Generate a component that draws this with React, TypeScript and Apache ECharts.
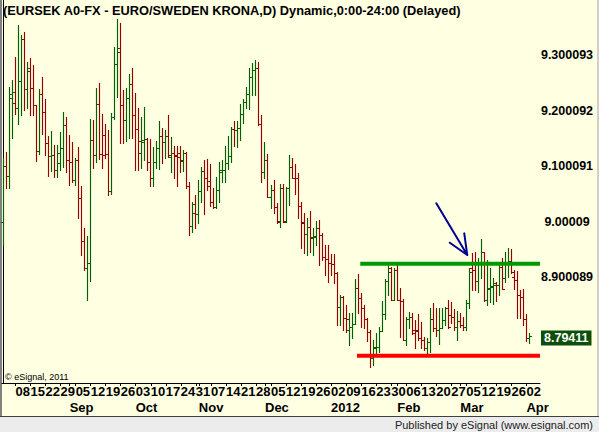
import React, { useEffect, useRef } from "react";
import * as echarts from "echarts";

const FONT = '"Liberation Sans", Arial, Helvetica, sans-serif';

// ---- calendar (weekday categories) ----
const FIRST_DATE = "2011-08-02";
const CATEGORY_COUNT = 179; // 176 trading bars + 3 empty days on the right
const monthNames = ["Jan", "Feb", "Mar", "Apr", "May", "Jun", "Jul", "Aug", "Sep", "Oct", "Nov", "Dec"];

// ---- OHLC data (EUR/SEK daily) ----
const opens = [
  8.9985, 9.1, 9.0814, 9.2219, 9.2129, 9.2039, 9.2532, 9.3289, 9.2388, 9.2712,
  9.24, 9.2099, 9.1271, 9.2292, 9.1979, 9.1409, 9.118, 9.1198, 9.0928, 9.1048,
  9.1331, 9.1739, 9.1108, 9.1078, 9.0748, 9.1108, 9.0418, 8.9649, 8.9156, 8.9247,
  9.1469, 9.1198, 9.2111, 9.1211, 9.1559, 9.1211, 9.055, 9.1889, 9.2832, 9.306,
  9.2099, 9.1829, 9.2232, 9.2472, 9.1919, 9.1661, 9.1229, 9.1439, 9.1487, 9.1078,
  9.0778, 9.1078, 9.1331, 9.1547, 9.1427, 9.1547, 9.1168, 9.1229, 9.1198, 9.1229,
  9.109, 9.1229, 9.0646, 8.9919, 9.0147, 9.0129, 9.055, 9.091, 9.0778, 9.073,
  9.0346, 9.0268, 9.0568, 9.0898, 9.0928, 9.1048, 9.1186, 9.1667, 9.1649, 9.1679,
  9.1931, 9.2147, 9.2292, 9.2598, 9.273, 9.2772, 9.1751, 9.0898, 9.1108, 9.0448,
  9.0568, 9.0256, 9.0009, 9.0598, 9.0009, 9.061, 9.0988, 9.079, 9.0778, 9.0286,
  8.9967, 8.9769, 8.9907, 8.9709, 8.9727, 8.9877, 8.9757, 8.9367, 8.9319, 8.9247,
  8.9229, 8.9066, 8.8466, 8.8646, 8.8268, 8.8045, 8.8105, 8.8147, 8.8796, 8.8616,
  8.8436, 8.8244, 8.8015, 8.7535, 8.7727, 8.7745, 8.8027, 8.8328, 8.8934, 8.9156,
  8.8586, 8.9126, 8.8586, 8.8568, 8.7865, 8.8244, 8.8286, 8.8045, 8.8045, 8.7895,
  8.7865, 8.7715, 8.7823, 8.8244, 8.8075, 8.8045, 8.8087, 8.8226, 8.8448, 8.8316,
  8.8286, 8.8105, 8.8207, 8.8135, 8.8105, 8.8526, 8.9168, 8.9126, 8.8928, 8.9229,
  8.9445, 8.8586, 8.8784, 8.8826, 8.8886, 8.8856, 8.9186, 8.8976, 8.9264, 8.9289,
  8.9006, 8.8946, 8.8676, 8.8646, 8.8244, 8.7895,
];
const highs = [
  9.1138, 9.1259, 9.243, 9.255, 9.297, 9.3541, 9.3361, 9.3421, 9.288, 9.2952,
  9.282, 9.2099, 9.2388, 9.261, 9.2207, 9.1547, 9.1631, 9.1379, 9.1379, 9.1619,
  9.1979, 9.1889, 9.1559, 9.1439, 9.1138, 9.1349, 9.0646, 8.9889, 8.9739, 9.1841,
  9.1829, 9.2412, 9.249, 9.1931, 9.1751, 9.1649, 9.1961, 9.3138, 9.3643, 9.3571,
  9.237, 9.2412, 9.2652, 9.2772, 9.231, 9.2039, 9.1889, 9.2069, 9.1499, 9.1487,
  9.1349, 9.1451, 9.1811, 9.1679, 9.1649, 9.1919, 9.1529, 9.1367, 9.1367, 9.1367,
  9.1289, 9.1259, 9.0718, 9.0358, 9.0478, 9.0748, 9.0988, 9.1108, 9.1126, 9.103,
  9.0598, 9.0808, 9.1078, 9.1108, 9.1367, 9.1547, 9.1709, 9.1811, 9.1811, 9.2111,
  9.2207, 9.243, 9.276, 9.285, 9.291, 9.288, 9.1919, 9.1439, 9.1211, 9.0658,
  9.0748, 9.0328, 9.067, 9.067, 9.0628, 9.1198, 9.1138, 9.1036, 9.088, 9.0358,
  9.0147, 9.0057, 9.0189, 8.9877, 9.0009, 9.0027, 8.9787, 8.9577, 8.9577, 8.9409,
  8.9409, 8.9096, 8.8676, 8.8658, 8.8496, 8.8346, 8.8346, 8.8964, 8.9048, 8.8706,
  8.8496, 8.8256, 8.8045, 8.7865, 8.7985, 8.8105, 8.8568, 8.8964, 8.9247, 8.9186,
  8.9168, 8.9247, 8.8808, 8.8604, 8.8286, 8.8376, 8.8358, 8.8226, 8.8328, 8.8195,
  8.7925, 8.7895, 8.8436, 8.8526, 8.8436, 8.8448, 8.8436, 8.8454, 8.8586, 8.8556,
  8.8424, 8.8388, 8.8346, 8.8286, 8.8586, 8.9168, 8.9427, 8.9445, 8.9337, 8.9685,
  8.9445, 8.9307, 8.9156, 8.8976, 8.8916, 8.9277, 8.9337, 8.9445, 8.9517, 8.9505,
  8.9126, 8.9108, 8.8766, 8.8778, 8.8328, 8.7985,
];
const lows = [
  8.9577, 9.0598, 9.061, 9.1511, 9.1931, 9.1751, 9.1919, 9.2009, 9.2039, 9.1919,
  9.1919, 9.1096, 9.1211, 9.1571, 9.1198, 9.082, 9.091, 9.0808, 9.0808, 9.0928,
  9.0988, 9.0886, 9.0658, 9.0706, 9.0658, 9.0069, 8.9397, 8.9126, 8.858, 8.8934,
  9.097, 9.1078, 9.1126, 9.0958, 9.1138, 9.0478, 9.049, 9.1847, 9.225, 9.1409,
  9.1409, 9.1451, 9.1511, 9.1499, 9.0928, 9.0928, 9.0958, 9.1108, 9.0928, 9.0646,
  9.0646, 9.0958, 9.0946, 9.1048, 9.1138, 9.1168, 9.0898, 9.079, 9.0646, 9.0886,
  9.091, 9.061, 8.9757, 8.9817, 8.9877, 8.9967, 9.0358, 9.0129, 9.0568, 9.0286,
  9.025, 9.0238, 9.0358, 9.0718, 9.0706, 9.0946, 9.1078, 9.1361, 9.1349, 9.1469,
  9.1769, 9.2039, 9.2027, 9.228, 9.228, 9.1739, 9.0718, 9.0778, 9.0448, 9.025,
  9.0147, 8.9967, 8.9895, 8.9985, 8.9985, 9.0298, 9.0778, 9.0496, 9.0069, 8.9517,
  8.9427, 8.9397, 8.9457, 8.9397, 8.9577, 8.9216, 8.9307, 8.9036, 8.8916, 8.9036,
  8.8886, 8.8135, 8.8135, 8.8045, 8.8015, 8.7775, 8.7895, 8.8147, 8.8346, 8.8105,
  8.8075, 8.7847, 8.7385, 8.7415, 8.7595, 8.7655, 8.8027, 8.8244, 8.8676, 8.8586,
  8.8586, 8.8586, 8.7925, 8.7865, 8.7775, 8.8075, 8.7967, 8.7715, 8.7865, 8.7715,
  8.7685, 8.7607, 8.7655, 8.8027, 8.7943, 8.7787, 8.8075, 8.8135, 8.8075, 8.8165,
  8.8045, 8.7865, 8.8105, 8.8045, 8.8045, 8.8436, 8.8766, 8.8766, 8.8736, 8.8976,
  8.8568, 8.8496, 8.8556, 8.8508, 8.8568, 8.8676, 8.8784, 8.8916, 8.9006, 8.9066,
  8.8784, 8.8268, 8.8256, 8.8135, 8.7847, 8.7805,
];
const closes = [
  9.1, 9.0814, 9.2298, 9.234, 9.2039, 9.2532, 9.3289, 9.2388, 9.276, 9.24,
  9.2099, 9.1271, 9.2292, 9.1979, 9.1409, 9.118, 9.1198, 9.0928, 9.1229, 9.1331,
  9.1739, 9.1108, 9.1078, 9.0748, 9.1108, 9.0418, 8.9649, 8.9156, 8.9247, 9.1469,
  9.1198, 9.2111, 9.1211, 9.1198, 9.1211, 9.055, 9.1889, 9.2832, 9.312, 9.2099,
  9.1829, 9.2232, 9.2472, 9.1919, 9.1661, 9.1451, 9.1469, 9.1487, 9.1078, 9.0778,
  9.1078, 9.1331, 9.1547, 9.1427, 9.1547, 9.1198, 9.1229, 9.1186, 9.1168, 9.1108,
  9.1229, 9.0646, 8.9919, 9.031, 9.0129, 9.055, 9.091, 9.0778, 9.0646, 9.0346,
  9.0268, 9.0568, 9.0928, 9.0928, 9.1048, 9.1186, 9.1667, 9.1649, 9.1679, 9.1931,
  9.2147, 9.2292, 9.2598, 9.273, 9.2772, 9.1751, 9.0898, 9.1108, 9.0448, 9.0568,
  9.0256, 8.9997, 9.0598, 8.9997, 9.061, 9.0988, 9.079, 9.0778, 9.0286, 8.9985,
  8.9769, 8.9907, 8.9727, 8.9745, 8.9877, 8.9757, 8.9367, 8.9319, 8.9247, 8.9229,
  8.9066, 8.8466, 8.8646, 8.8268, 8.8244, 8.8105, 8.8147, 8.8796, 8.8616, 8.8436,
  8.8244, 8.8015, 8.7535, 8.7745, 8.7745, 8.8027, 8.8328, 8.8934, 8.9096, 8.8586,
  8.9126, 8.8586, 8.8568, 8.7865, 8.8244, 8.8286, 8.7985, 8.8027, 8.7895, 8.7865,
  8.7715, 8.7823, 8.8244, 8.8075, 8.8045, 8.8087, 8.8226, 8.8436, 8.8105, 8.8286,
  8.8105, 8.8207, 8.8135, 8.8105, 8.8526, 8.9096, 8.9126, 8.8928, 8.9247, 8.9247,
  8.8586, 8.8808, 8.8844, 8.8856, 8.8856, 8.9186, 8.8784, 8.9277, 8.9289, 8.9096,
  8.8946, 8.8676, 8.8646, 8.8244, 8.7895, 8.79411,
];

// ---- right axis tick labels ----
const yTickLabels = ["8.900089", "9.00009", "9.100091", "9.200092", "9.300093"];
const Y_MIN = 8.709103;
const Y_MAX = 9.399193;

// ---- drawn annotations (data coordinates: bar index, price) ----
const resistanceLevel = 8.9241;
const resistanceFrom = 118.7;
const supportLevel = 8.758;
const supportFrom = 117.6;
const arrowPoints: [number, number][] = [
  [144.0, 9.0328],
  [154.3, 8.9397],
  [148.5, 8.9619],
  [154.3, 8.9397],
  [153.3, 8.9787],
];

const TITLE = "(EURSEK A0-FX - EURO/SWEDEN KRONA,D) Dynamic,0:00-24:00 (Delayed)";

const GREEN = "#006000";
const RED = "#960000";
const BG = "#FFFFE1";

function buildDates(first: string, count: number): string[] {
  const out: string[] = [];
  const d = new Date(first + "T00:00:00Z");
  while (out.length < count) {
    const w = d.getUTCDay();
    if (w !== 0 && w !== 6) out.push(d.toISOString().slice(0, 10));
    d.setUTCDate(d.getUTCDate() + 1);
  }
  return out;
}

export default function App() {
  const ref = useRef<HTMLDivElement>(null);
  useEffect(() => {
    if (!ref.current) return;
    const chart = echarts.init(ref.current, undefined, { renderer: "svg" });
    const dates = buildDates(FIRST_DATE, CATEGORY_COUNT);
    const isMonday = (s: string) => new Date(s + "T00:00:00Z").getUTCDay() === 1;
    const isMonthStart = (i: number) => i > 0 && dates[i].slice(5, 7) !== dates[i - 1].slice(5, 7);
    const ohlc = opens.map((o, i) => [i, o, highs[i], lows[i], closes[i]]);
    const last = closes[closes.length - 1];
    const lastIdx = CATEGORY_COUNT - 0.5;

    const option: any = {
      animation: false,
      backgroundColor: BG,
      textStyle: { fontFamily: FONT },
      grid: { left: 2, right: 59, top: 0, bottom: 49, containLabel: false },
      xAxis: [
        {
          type: "category",
          data: dates,
          position: "bottom",
          boundaryGap: true,
          axisLine: { show: true, lineStyle: { color: "#000", width: 1 } },
          axisTick: {
            show: true,
            alignWithLabel: true,
            length: 3,
            lineStyle: { color: "#000" },
            interval: (i: number, v: string) => isMonday(v) || isMonthStart(i),
          },
          axisLabel: {
            show: true,
            interval: (_i: number, v: string) => isMonday(v),
            formatter: (v: string) => v.slice(8, 10),
            align: "left",
            margin: 2,
            color: "#000",
            fontWeight: "bold",
            fontSize: 13,
            fontFamily: FONT,
          },
          splitLine: { show: false },
        },
        {
          type: "category",
          data: dates,
          position: "bottom",
          boundaryGap: true,
          axisLine: { show: false },
          axisTick: { show: false },
          axisLabel: {
            show: true,
            interval: (i: number) => isMonthStart(i),
            formatter: (v: string) => {
              const m = parseInt(v.slice(5, 7), 10);
              return m === 1 ? v.slice(0, 4) : monthNames[m - 1];
            },
            align: "left",
            margin: 18,
            color: "#000",
            fontWeight: "bold",
            fontSize: 13,
            fontFamily: FONT,
          },
          splitLine: { show: false },
        },
        {
          type: "value",
          show: false,
          min: -0.5,
          max: lastIdx,
          splitLine: { show: false },
        },
      ],
      yAxis: {
        type: "value",
        position: "right",
        min: Y_MIN,
        max: Y_MAX,
        splitNumber: 6,
        scale: true,
        axisLine: { show: true, lineStyle: { color: "#000", width: 1 } },
        axisTick: { show: false },
        splitLine: { show: false },
        axisLabel: {
          show: true,
          align: "center",
          margin: 27,
          color: "#000",
          fontWeight: "bold",
          fontSize: 12.5,
          fontFamily: FONT,
          formatter: (v: number) => {
            const m = yTickLabels.find((s) => Math.abs(parseFloat(s) - v) < 0.002);
            return m ?? "";
          },
        },
      },
      graphic: [
        { type: "rect", silent: true, shape: { x: 0, y: 0, width: 2, height: 418 }, style: { fill: "#808080" } },
        { type: "rect", silent: true, shape: { x: 597, y: 0, width: 2, height: 418 }, style: { fill: "#D4D0C8" } },
        { type: "rect", silent: true, shape: { x: 0, y: 416, width: 599, height: 16 }, style: { fill: "#ECECEC" } },
        { type: "rect", silent: true, shape: { x: 0, y: 416, width: 599, height: 1 }, style: { fill: "#404040" } },
        {
          type: "text",
          silent: true,
          left: 3,
          top: 4,
          style: { text: TITLE, fill: "#000", font: `bold 12.8px ${FONT}` },
        },
        {
          type: "text",
          silent: true,
          left: 5,
          top: 372,
          style: { text: "\u00A9 eSignal, 2011", fill: "#000", font: `9px ${FONT}` },
        },
        {
          type: "text",
          silent: true,
          right: 6,
          top: 419,
          style: { text: "Published by eSignal (www.esignal.com)", fill: "#222", font: `11px ${FONT}` },
        },
      ],
      series: [
        {
          type: "custom",
          name: "EURSEK",
          xAxisIndex: 0,
          yAxisIndex: 0,
          data: ohlc,
          encode: { x: 0, y: [1, 2, 3, 4] },
          clip: false,
          renderItem: (_p: any, api: any) => {
            const i = api.value(0);
            const o = api.value(1);
            const h = api.value(2);
            const l = api.value(3);
            const c = api.value(4);
            const pH = api.coord([i, h]);
            const pL = api.coord([i, l]);
            const pO = api.coord([i, o]);
            const pC = api.coord([i, c]);
            const px = Math.floor(pH[0]);
            const xc = px + 0.5;
            const color = c >= o ? GREEN : RED;
            const style = { stroke: color, lineWidth: 1.15, fill: null };
            const yo = Math.round(pO[1]) + 0.5;
            const yc = Math.round(pC[1]) + 0.5;
            return {
              type: "group",
              children: [
                { type: "line", shape: { x1: xc, y1: Math.round(pH[1]), x2: xc, y2: Math.round(pL[1]) + 1 }, style },
                { type: "line", shape: { x1: px - 2, y1: yo, x2: px, y2: yo }, style },
                { type: "line", shape: { x1: px + 1, y1: yc, x2: px + 3, y2: yc }, style },
              ],
            };
          },
          markLine: {
            silent: true,
            symbol: "none",
            animation: false,
            lineStyle: { color: "rgba(0,0,0,0)", width: 1, type: "solid" },
            label: {
              show: true,
              position: "end",
              distance: 1,
              formatter: () => last.toFixed(5),
              color: "#fff",
              backgroundColor: "#0B4F0B",
              fontWeight: "bold",
              fontSize: 12.5,
              fontFamily: FONT,
              padding: [1, 3, 1, 3],
            },
            data: [{ yAxis: last }],
          },
          z: 3,
        },
        {
          type: "line",
          name: "resistance",
          xAxisIndex: 2,
          yAxisIndex: 0,
          data: [
            [resistanceFrom, resistanceLevel],
            [lastIdx, resistanceLevel],
          ],
          symbol: "none",
          silent: true,
          lineStyle: { color: "#009900", width: 4, cap: "butt" },
          z: 4,
        },
        {
          type: "line",
          name: "support",
          xAxisIndex: 2,
          yAxisIndex: 0,
          data: [
            [supportFrom, supportLevel],
            [lastIdx, supportLevel],
          ],
          symbol: "none",
          silent: true,
          lineStyle: { color: "#FF0000", width: 4, cap: "butt" },
          z: 4,
        },
        {
          type: "line",
          name: "arrow",
          xAxisIndex: 2,
          yAxisIndex: 0,
          data: arrowPoints,
          symbol: "none",
          silent: true,
          lineStyle: { color: "#000090", width: 2, join: "round", cap: "round" },
          z: 5,
        },
      ],
    };
    chart.setOption(option);
    return () => chart.dispose();
  }, []);
  return <div ref={ref} style={{ position: "absolute", left: 0, top: 0, width: 599, height: 432 }} />;
}
